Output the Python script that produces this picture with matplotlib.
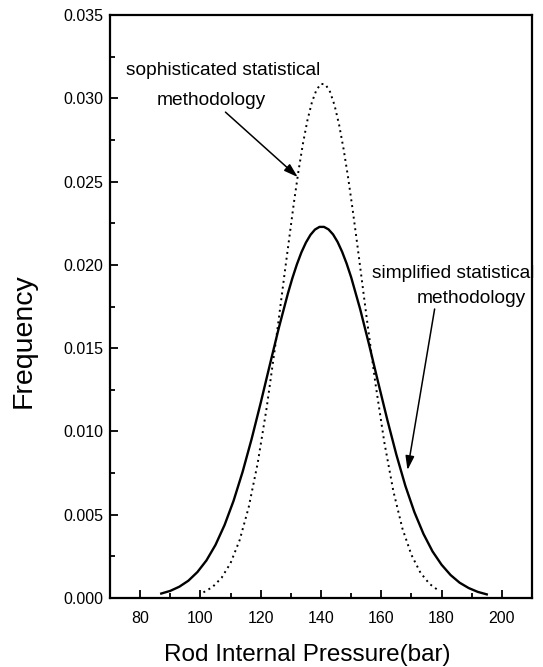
import matplotlib
matplotlib.use("Agg")
import matplotlib.pyplot as plt
from matplotlib.ticker import MultipleLocator, FormatStrFormatter

# solid curve - simplified statistical methodology
simple_x = [87, 90, 93, 96, 99, 102, 105, 108, 111, 114, 117, 120, 123, 126, 129,
            130.5, 132, 133.5, 135, 136.5, 138, 139.5, 141, 142.5, 144, 145.5, 147,
            148.5, 150, 153, 156, 159, 162, 165, 168, 171, 174, 177, 180, 183, 186,
            189, 192, 195]
simple_y = [0.00027, 0.00043, 0.00068, 0.00104, 0.00156, 0.00226, 0.00319, 0.00438,
            0.00584, 0.00758, 0.00956, 0.01172, 0.01398, 0.01621, 0.01827, 0.01920,
            0.02003, 0.02075, 0.02134, 0.02180, 0.02212, 0.02228, 0.02228, 0.02213,
            0.02183, 0.02138, 0.02079, 0.02008, 0.01926, 0.01734, 0.01518, 0.01292,
            0.01070, 0.00861, 0.00673, 0.00515, 0.00385, 0.00280, 0.00200, 0.00138,
            0.00092, 0.00060, 0.00037, 0.00022]

# dotted curve - sophisticated statistical methodology
soph_x = [101, 104, 107, 110, 113, 116, 119, 122, 125, 128, 131, 132.5, 134, 135.5,
          137, 138.5, 140, 141.5, 143, 144.5, 146, 147.5, 149, 150.5, 152, 155, 158,
          161, 164, 167, 170, 173, 176, 179]
soph_y = [0.00034, 0.00066, 0.00121, 0.00210, 0.00347, 0.00544, 0.00810, 0.01145,
          0.01537, 0.01959, 0.02372, 0.02560, 0.02727, 0.02868, 0.02977, 0.03051,
          0.03087, 0.03083, 0.03039, 0.02958, 0.02842, 0.02695, 0.02524, 0.02332,
          0.02128, 0.01704, 0.01296, 0.00936, 0.00642, 0.00418, 0.00259, 0.00152,
          0.00085, 0.00045]

x_ticks = [80, 100, 120, 140, 160, 180, 200]

FONT = "Liberation Sans"

fig = plt.figure(figsize=(5.43, 6.67), dpi=100)
ax = fig.add_axes([0.2026, 0.1034, 0.9797 - 0.2026, 0.9775 - 0.1034])

ax.plot(simple_x, simple_y, color="black", lw=1.7, solid_joinstyle="round")
ax.plot(soph_x, soph_y, color="black", lw=1.4, linestyle=(0, (1, 2.0)))

ax.set_xlim(70, 210)
ax.set_ylim(0, 0.035)
ax.set_xticks(x_ticks)
ax.xaxis.set_minor_locator(MultipleLocator(10))
ax.yaxis.set_major_locator(MultipleLocator(0.005))
ax.yaxis.set_minor_locator(MultipleLocator(0.0025))
ax.yaxis.set_major_formatter(FormatStrFormatter("%.3f"))

ax.tick_params(which="both", direction="in", top=False, right=False, width=1.3)
ax.tick_params(which="major", length=6, labelsize=11.5)
ax.tick_params(axis="x", which="major", pad=9)
ax.tick_params(axis="y", which="major", pad=5)
ax.tick_params(which="minor", length=3.5)
for lab in ax.get_xticklabels() + ax.get_yticklabels():
    lab.set_family(FONT)

for sp in ax.spines.values():
    sp.set_linewidth(1.6)

fig.text(307 / 543, 1 - 655 / 667, "Rod Internal Pressure(bar)", fontsize=17.5,
         family=FONT, ha="center", va="center")
fig.text(24 / 543, 1 - 341 / 667, "Frequency", fontsize=20.5, family=FONT,
         ha="center", va="center", rotation=90)

# annotation texts, one line each
txt = dict(ha="center", va="center", fontsize=13.8, family=FONT, clip_on=False)
ax.text(107.5, 0.03169, "sophisticated statistical", **txt)
ax.text(103.7, 0.02989, "methodology", **txt)
ax.text(183.7, 0.01951, "simplified statistical", **txt)
ax.text(190.0, 0.01800, "methodology", **txt)

arrow = dict(arrowstyle="-|>,head_length=0.7,head_width=0.22", color="black",
             lw=1.1, shrinkA=0, shrinkB=0, mutation_scale=12)
ax.annotate("", xy=(132.3, 0.02527), xytext=(108.3, 0.02917), arrowprops=arrow)
ax.annotate("", xy=(168.7, 0.00768), xytext=(177.7, 0.01735), arrowprops=arrow)

fig.savefig("out.png", dpi=100)
